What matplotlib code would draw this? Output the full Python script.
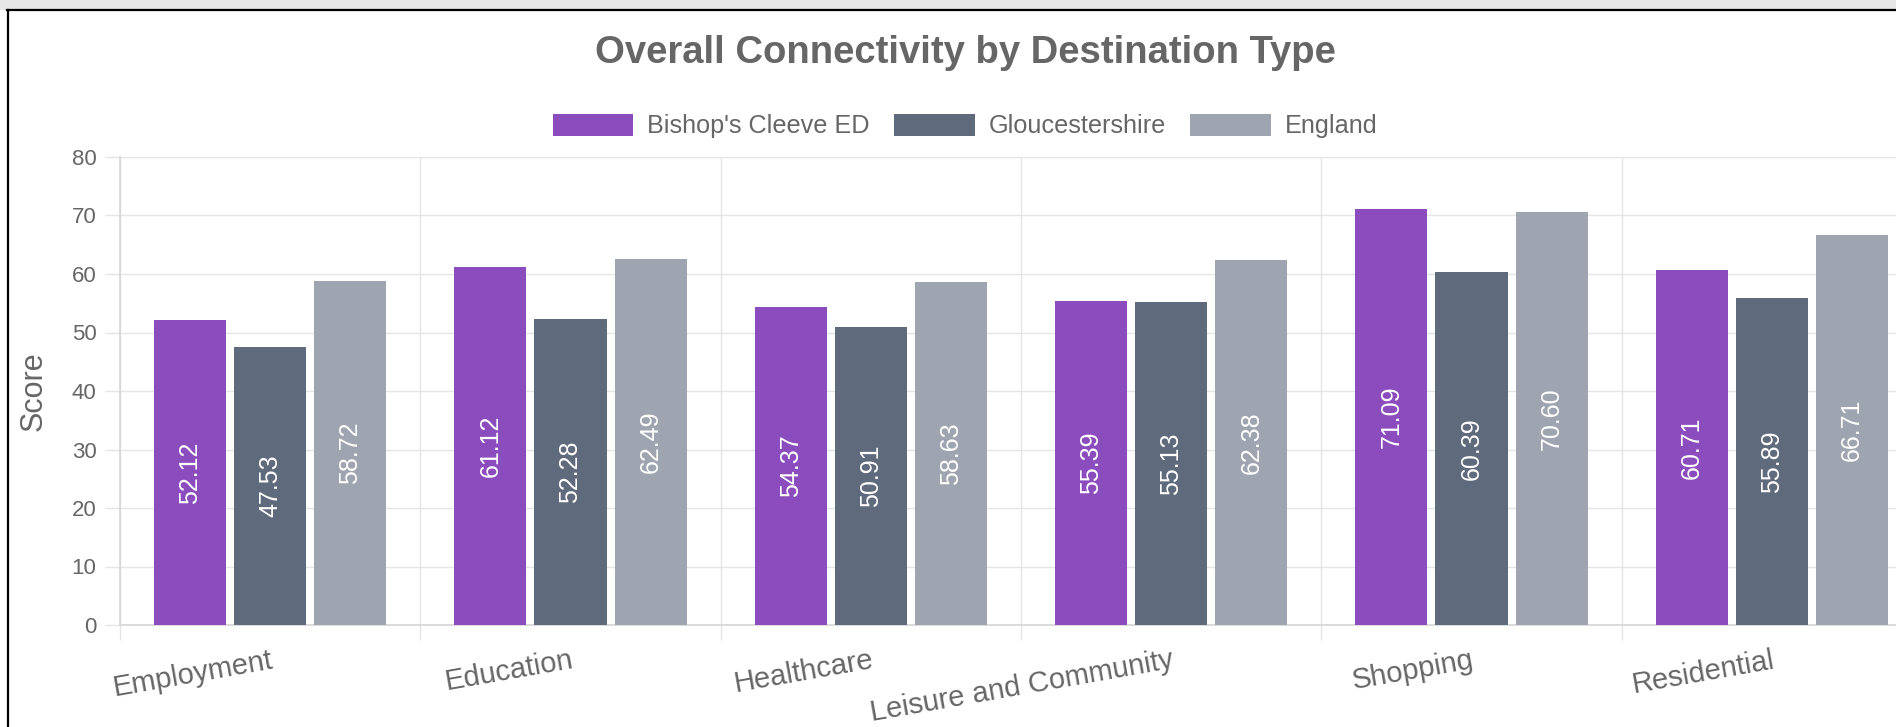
import matplotlib
matplotlib.use('Agg')
import matplotlib.pyplot as plt
import numpy as np
from matplotlib.patches import Rectangle
from matplotlib.lines import Line2D

#data
categories = ['Employment', 'Education', 'Healthcare', 'Leisure and Community', 'Shopping', 'Residential']
series_names = ["Bishop's Cleeve ED", 'Gloucestershire', 'England']
bishops = [52.12, 61.12, 54.37, 55.39, 71.09, 60.71]
glos = [47.53, 52.28, 50.91, 55.13, 60.39, 55.89]
england = [58.72, 62.49, 58.63, 62.38, 70.60, 66.71]
colors = ['#8b4cbd', '#5f6a7c', '#9ea5b1']
yticks = list(range(0, 90, 10))

plt.rcParams['font.family'] = ['Liberation Sans', 'DejaVu Sans']
text_grey = '#666666'
grid_grey = '#e5e5e5'

W, H = 1896, 727
fig = plt.figure(figsize=(W / 100, H / 100), dpi=100)

#plot area (runs past the right edge like the screenshot)
ax = fig.add_axes([120 / W, 1 - 625 / H, 1802 / W, 468 / H])

x = np.arange(len(categories)) + 0.5
bw = 0.8 / 3
for k, vals in enumerate([bishops, glos, england]):
    xs = x + (k - 1) * bw
    bars = ax.bar(xs, vals, width=bw * 0.9, color=colors[k], label=series_names[k], zorder=3)
    for xi, v in zip(xs, vals):
        ax.text(xi, v / 2, '%.2f' % v, rotation=90, ha='center', va='center',
                color='white', fontsize=18, zorder=4)

ax.set_xlim(0, len(categories))
ax.set_ylim(0, 80)
ax.set_yticks(yticks)
ax.set_xticks(np.arange(len(categories) + 1))
ax.set_xticklabels([])
ax.set_xticks(x, minor=True)
ax.set_xticklabels(categories, minor=True, rotation=10, ha='right', va='top',
                   rotation_mode='anchor')
ax.tick_params(axis='x', which='minor', length=0, pad=15, labelsize=21, labelcolor=text_grey)
ax.tick_params(axis='x', which='major', length=11, width=1, color=grid_grey)
ax.tick_params(axis='y', length=11, width=1, color=grid_grey, pad=6, labelsize=16,
               labelcolor=text_grey)
ax.grid(True, which='major', color=grid_grey, lw=1, zorder=0)
ax.set_axisbelow(True)
for s in ['top', 'right']:
    ax.spines[s].set_visible(False)
for s in ['left', 'bottom']:
    ax.spines[s].set_color('#d6d6d6')
    ax.spines[s].set_linewidth(1.2)

fig.text(34 / W, 1 - 391 / H, 'Score', rotation=90, ha='center', va='center',
         fontsize=22, color=text_grey)
fig.text(965 / W, 1 - 53 / H, 'Overall Connectivity by Destination Type', ha='center',
         va='center', fontsize=27.5, fontweight='bold', color=text_grey)

leg = fig.legend(loc='center', bbox_to_anchor=(965 / W, 1 - 126 / H), ncol=3, frameon=False,
                 fontsize=18.2, handlelength=3.2, handleheight=1.0, handletextpad=0.55,
                 columnspacing=0.95, labelcolor=text_grey)

#screenshot frame
fig.patches.append(Rectangle((0, 1 - 9 / H), 1, 9 / H, transform=fig.transFigure,
                             color='#e6e6e6', zorder=0))
fig.lines.append(Line2D([8 / W, 8 / W], [0, 1 - 10 / H], transform=fig.transFigure,
                        color='black', lw=1.6))
fig.lines.append(Line2D([7 / W, 1], [1 - 10 / H, 1 - 10 / H], transform=fig.transFigure,
                        color='black', lw=1.6))

fig.savefig('out.png', dpi=100)
